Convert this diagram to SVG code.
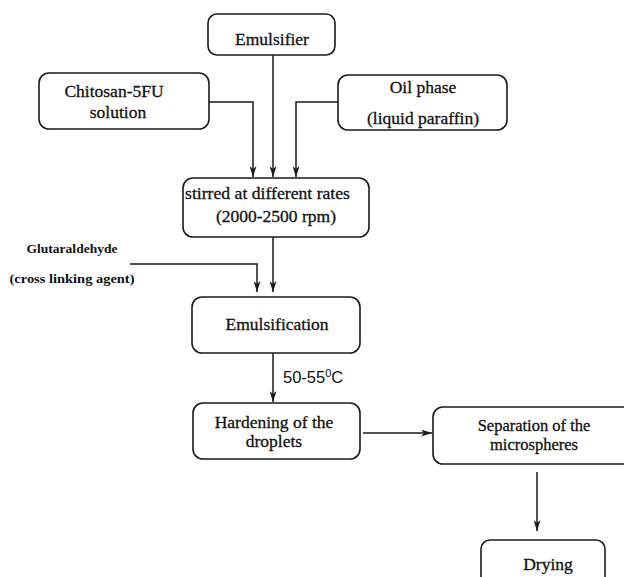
<svg xmlns="http://www.w3.org/2000/svg" width="624" height="577" viewBox="0 0 624 577">
  <defs>
    <style>
      .box { fill: #ffffff; stroke: #1a1a1a; stroke-width: 1.6; }
      .t { font-family: "Liberation Serif", "Times New Roman", serif; font-size: 17.5px; fill: #111; stroke: #111; stroke-width: 0.3; text-anchor: middle; }
      .ts { font-family: "Liberation Serif", "Times New Roman", serif; font-size: 13.5px; font-weight: bold; fill: #111; text-anchor: middle; }
      .ta { font-family: "Liberation Sans", Arial, sans-serif; font-size: 16.5px; fill: #111; }
      .c { fill: none; stroke: #1a1a1a; stroke-width: 1.5; marker-end: url(#ah); }
    </style>
    <marker id="ah" markerUnits="userSpaceOnUse" markerWidth="12" markerHeight="7" refX="11" refY="3.5" orient="auto" viewBox="0 0 12 7">
      <path d="M0,0 L11,3.5 L0,7 L3,3.5 Z" fill="#1a1a1a"/>
    </marker>
  </defs>
  <rect width="624" height="577" fill="#ffffff"/>

  <g id="connectors">
    <path class="c" d="M273,55 V177"/>
    <path class="c" d="M209,102 H253 V177"/>
    <path class="c" d="M338,102 H296 V177"/>
    <path class="c" d="M273,237 V292"/>
    <path class="c" d="M130,264 H257 V292"/>
    <path class="c" d="M273,353 V402"/>
    <path class="c" d="M363,433 H432"/>
    <path class="c" d="M537,472 V531"/>
  </g>

  <g id="emulsifier">
    <rect class="box" x="208" y="14" width="127" height="41" rx="9"/>
    <text class="t" x="272" y="45">Emulsifier</text>
  </g>

  <g id="chitosan">
    <rect class="box" x="39" y="73" width="170" height="56" rx="10"/>
    <text class="t" x="114" y="97">Chitosan-5FU</text>
    <text class="t" x="118" y="118">solution</text>
  </g>

  <g id="oil-phase">
    <rect class="box" x="338" y="75" width="169" height="55" rx="10"/>
    <text class="t" x="423" y="93">Oil phase</text>
    <text class="t" x="423" y="124">(liquid paraffin)</text>
  </g>

  <g id="stirred">
    <rect class="box" x="183" y="178" width="186" height="59" rx="10"/>
    <text class="t" x="185" y="199" style="text-anchor:start" textLength="165" lengthAdjust="spacingAndGlyphs">stirred at different rates</text>
    <text class="t" x="276" y="222">(2000-2500 rpm)</text>
  </g>

  <g id="glutaraldehyde">
    <text class="ts" x="72" y="253" textLength="91" lengthAdjust="spacingAndGlyphs">Glutaraldehyde</text>
    <text class="ts" x="72" y="283" textLength="125" lengthAdjust="spacingAndGlyphs">(cross linking agent)</text>
  </g>

  <g id="emulsification">
    <rect class="box" x="192" y="297" width="168" height="56" rx="10"/>
    <text class="t" x="277" y="330">Emulsification</text>
  </g>

  <g id="temperature">
    <text class="ta" x="283" y="383">50-55<tspan font-size="11" dy="-6">0</tspan><tspan dy="6">C</tspan></text>
  </g>

  <g id="hardening">
    <rect class="box" x="193" y="403" width="167" height="56" rx="10"/>
    <text class="t" x="274" y="428">Hardening of the</text>
    <text class="t" x="274" y="447">droplets</text>
  </g>

  <g id="separation">
    <rect class="box" x="433" y="407" width="200" height="57" rx="10"/>
    <text class="t" x="534" y="431" style="font-size:16.5px">Separation of the</text>
    <text class="t" x="534" y="450" style="font-size:16.5px">microspheres</text>
  </g>

  <g id="drying">
    <rect class="box" x="481" y="540" width="124" height="50" rx="9"/>
    <text class="t" x="548" y="570">Drying</text>
  </g>
</svg>
